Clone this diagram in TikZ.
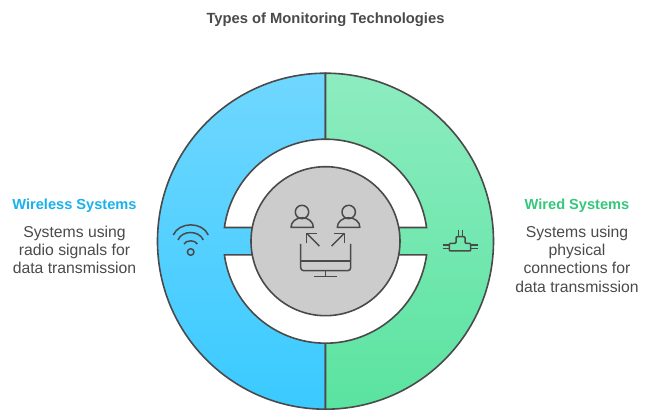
\documentclass[tikz,border=0pt]{standalone}
\usepackage{fontspec}
\setmainfont{Liberation Sans}
\usepackage{xcolor}
\usetikzlibrary{positioning}
\definecolor{inkgray}{HTML}{4A4A4A}
\definecolor{hubgray}{HTML}{CCCCCC}
\definecolor{wirelessblue}{HTML}{1AB1EA}
\definecolor{wiredgreen}{HTML}{34C77B}
\tikzset{
	outline/.style={draw=inkgray,line width=1.6pt},
	iconline/.style={draw=inkgray,line width=1.5pt,line join=round},
	headtext/.style={text=#1,font=\fontsize{14.6}{18.4}\selectfont\bfseries,inner sep=0pt},
	desctext/.style={text=inkgray,font=\fontsize{15.75}{18.4}\selectfont,align=center,inner sep=0pt}
}
\begin{document}
\begin{tikzpicture}[x=1pt,y=1pt]
	\useasboundingbox (-325.5,-177.8) rectangle (325.5,241.2);
	% two half discs
	\path[outline,top color={rgb,255:red,112;green,215;blue,255},bottom color={rgb,255:red,58;green,202;blue,255}]
		(0,168) arc (90:270:168) -- cycle;
	\path[outline,top color={rgb,255:red,141;green,236;blue,192},bottom color={rgb,255:red,90;green,227;blue,160}]
		(0,168) arc (90:-90:168) -- cycle;
	% white segments
	\draw[outline,fill=white] (7.7:102) arc (7.7:172.3:102) -- cycle;
	\draw[outline,fill=white] (-7.7:102) arc (-7.7:-172.3:102) -- cycle;
	\node (hub) [circle,outline,fill=hubgray,minimum size=149pt,inner sep=0pt] at (0,0) {};
	
	\node (title) [text=inkgray,font=\fontsize{14.75}{16}\selectfont\bfseries,inner sep=0pt] at (0,221.7) {Types of Monitoring Technologies};
	\node (wirelesshead) [headtext=wirelessblue] at (-251,35.8) {Wireless Systems};
	\node (wirelessdesc) [desctext,below=13pt of wirelesshead] {Systems using\\radio signals for\\data transmission};
	\node (wiredhead) [headtext=wiredgreen] at (251.5,35.8) {Wired Systems};
	\node (wireddesc) [desctext,below=13pt of wiredhead] {Systems using\\physical\\connections for\\data transmission};
	
	% icons, in pixels of the page
	\begin{scope}[shift={(-325.5,241.2)},yscale=-1]
		% people
		\draw[iconline] (302,212) circle (6.7);
		\draw[iconline] (291,227.3) arc (180:360:11.2 and 9.6) -- cycle;
		\draw[iconline] (348.7,212) circle (6.7);
		\draw[iconline] (337.3,227.3) arc (180:360:11.3 and 9.6) -- cycle;
		% arrows
		\draw[iconline] (319.3,246) -- (306.7,233.3);
		\draw[iconline] (306.7,243.3) -- (306.7,233.3) -- (316.7,233.3);
		\draw[iconline] (331.7,246) -- (344.3,233.3);
		\draw[iconline] (334.3,233.3) -- (344.3,233.3) -- (344.3,243.3);
		% monitor
		\draw[iconline,rounded corners=3pt] (300.7,244) -- (300.7,270.7) -- (350.7,270.7) -- (350.7,244);
		\draw[iconline] (300.7,261) -- (350.7,261);
		\draw[iconline] (325.5,270.7) -- (325.5,276.7);
		\draw[iconline] (314,276.7) -- (336.7,276.7);
		% wifi
		\draw[iconline] (190.7,252) circle (3.3);
		\draw[iconline] (173.3,235) .. controls (179,221.5) and (202.5,221.5) .. (208.3,235);
		\draw[iconline] (178,240) .. controls (182,230) and (199,230) .. (203.3,240);
		\draw[iconline] (184,244) .. controls (186,239.8) and (195.5,239.8) .. (197.3,244);
		% plug
		\draw[iconline,rounded corners=1pt] (449.3,251) -- (449.3,243.3) -- (456,243.3) -- (456,236.7) -- (465,236.7) -- (465,243.3) -- (470.7,243.3) -- (470.7,251) -- cycle;
		\draw[iconline] (458.7,229.7) -- (458.7,236.7) (462.3,229.7) -- (462.3,236.7);
		\draw[iconline] (442.7,245) -- (449.3,245) (442.7,248.3) -- (449.3,248.3);
		\draw[iconline] (470.7,245) -- (477.7,245) (470.7,248.3) -- (477.7,248.3);
	\end{scope}
\end{tikzpicture}
\end{document}
